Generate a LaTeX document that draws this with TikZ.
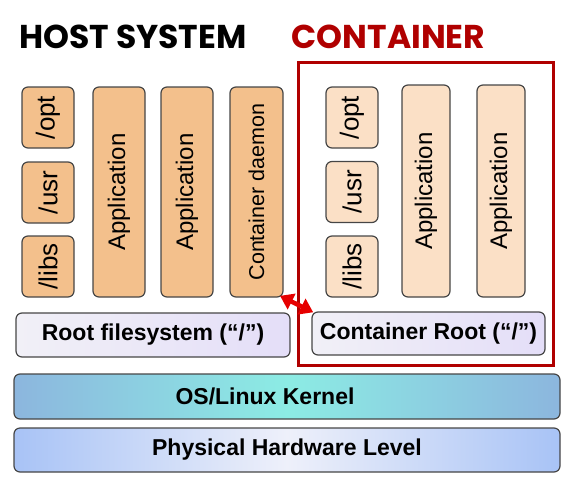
\documentclass[tikz,border=0pt]{standalone}
\usepackage{fontspec}
\setmainfont{Liberation Sans}
\newfontfamily\titlefont{Poppins}
\usetikzlibrary{arrows.meta}

\definecolor{hostfill}{RGB}{243,192,140}
\definecolor{ctrfill}{RGB}{251,224,198}
\definecolor{boxline}{RGB}{70,70,70}
\definecolor{framered}{RGB}{176,0,0}
\definecolor{arrowred}{RGB}{230,0,0}
\definecolor{rootleft}{RGB}{241,240,247}
\definecolor{rootright}{RGB}{228,222,248}
\definecolor{kernout}{RGB}{140,182,222}
\definecolor{kernmid}{RGB}{140,236,228}
\definecolor{hwout}{RGB}{168,195,246}
\definecolor{hwmid}{RGB}{238,240,250}

\tikzset{vbox/.style = {draw = boxline, line width = 1.2pt, rounded corners = 6pt,
                        rotate = 90, inner sep = 0pt,
                        minimum height = 52pt, minimum width = #1},
         vbox/.default = 61pt,
         dirbox/.style = {vbox, font = \fontsize{26}{30}\selectfont},
         appbox/.style = {vbox = #1, font = \fontsize{24}{28}\selectfont},
         appbox/.default = 210pt,
         flatbox/.style = {draw = boxline, line width = 1.2pt, rounded corners = 6pt,
                           minimum height = 44pt, minimum width = #1,
                           font = \bfseries\fontsize{23}{27}\selectfont},
         rootbox/.style = {flatbox = #1, left color = rootleft, right color = rootright},
         title/.style = {font = \titlefont\bfseries\fontsize{33}{36}\selectfont}
        }

\begin{document}
\begin{tikzpicture}[x=1pt, y=-1pt]
\useasboundingbox (0,0) rectangle (573,483);
% titles
\node[title] at (133,36.5) (hosttitle) {HOST SYSTEM};
\node[title, text = framered] at (388.5,36.5) (ctrtitle) {CONTAINER};
\node[draw = framered, line width = 3pt, minimum width = 255pt, minimum height = 303pt]
  at (425.5,213.5) (frame) {};
% host side
\node[dirbox, fill = hostfill] at (48,117.5) (opt) {/opt};
\node[dirbox, fill = hostfill] at (48,192.5) (usr) {/usr};
\node[dirbox, fill = hostfill] at (48,266.5) (libs) {/libs};
\node[appbox, fill = hostfill] at (119,192) (app1) {Application};
\node[appbox, fill = hostfill] at (187,192) (app2) {Application};
\node[appbox, fill = hostfill, minimum height = 53pt,
      font = \fontsize{21.5}{25}\selectfont] at (256.5,192) (daemon) {Container daemon};
\node[rootbox = 274pt] at (153,335) (rootfs) {Root filesystem (“/”)};
% container side
\node[dirbox, fill = ctrfill] at (352,117.5) (copt) {/opt};
\node[dirbox, fill = ctrfill] at (352,192) (cusr) {/usr};
\node[dirbox, fill = ctrfill] at (352,266.5) (clibs) {/libs};
\node[appbox = 212pt, fill = ctrfill, minimum height = 48pt] at (426,191) (capp1) {Application};
\node[appbox = 212pt, fill = ctrfill, minimum height = 48pt] at (501,191) (capp2) {Application};
\node[rootbox = 233pt, minimum height = 43pt] at (428.5,333.5) (croot) {Container Root (“/”)};
% layers
\node[flatbox = 546pt, minimum height = 45pt, left color = kernout, right color = kernout,
      middle color = kernmid] at (287,396.5) (kernel) {};
\node[font = \bfseries\fontsize{23}{27}\selectfont] at (265,396.5) (kerneltxt) {OS/Linux Kernel};
\node[flatbox = 546pt, left color = hwout, right color = hwout, middle color = hwmid]
  at (287,450) (hardware) {Physical Hardware Level};
\draw[arrowred, line width = 4.5pt, shorten <= -4pt, shorten >= -2pt,
      {Triangle[length=13pt,width=17pt]}-{Triangle[length=13pt,width=17pt]}]
  (daemon.south west) -- (croot.north west);
\end{tikzpicture}
\end{document}
